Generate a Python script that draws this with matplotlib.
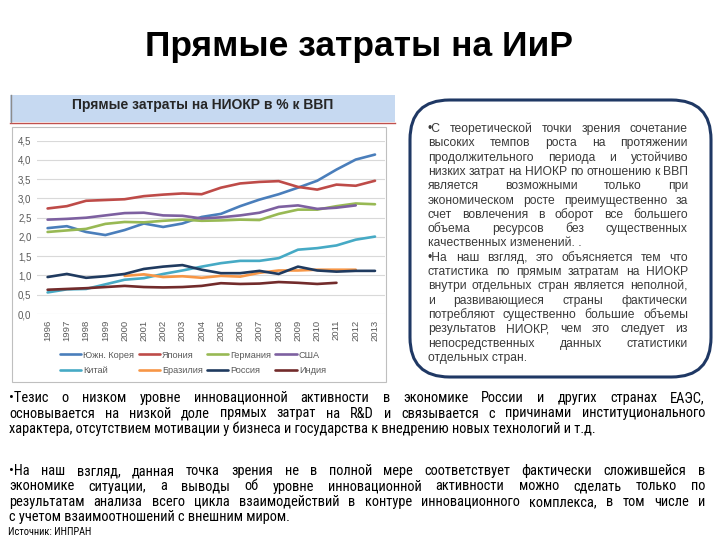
import matplotlib
matplotlib.use('Agg')
import matplotlib.pyplot as plt
from matplotlib.patches import Rectangle, FancyBboxPatch
from matplotlib.lines import Line2D
from matplotlib import font_manager

W, H = 720, 540

# ---------------- data ----------------
years = [str(y) for y in range(1996, 2014)]
korea   = [2.23, 2.28, 2.13, 2.05, 2.18, 2.35, 2.26, 2.35, 2.52, 2.60, 2.80, 2.97, 3.11, 3.28, 3.46, 3.75, 4.01, 4.14]
japan   = [2.74, 2.80, 2.94, 2.96, 2.98, 3.06, 3.10, 3.13, 3.11, 3.28, 3.39, 3.43, 3.45, 3.30, 3.23, 3.36, 3.33, 3.46]
germany = [2.13, 2.17, 2.21, 2.34, 2.39, 2.38, 2.42, 2.45, 2.42, 2.43, 2.45, 2.44, 2.60, 2.71, 2.71, 2.80, 2.87, 2.85]
usa     = [2.45, 2.47, 2.50, 2.56, 2.62, 2.63, 2.56, 2.55, 2.48, 2.51, 2.56, 2.63, 2.78, 2.82, 2.73, 2.76, 2.82, None]
china   = [0.56, 0.64, 0.65, 0.77, 0.89, 0.93, 1.04, 1.13, 1.23, 1.32, 1.38, 1.38, 1.45, 1.67, 1.71, 1.78, 1.93, 2.01]
brazil  = [None, None, None, None, 0.99, 1.03, 0.96, 0.98, 0.94, 0.99, 0.97, 1.07, 1.13, 1.13, 1.15, 1.15, 1.15, None]
russia  = [0.96, 1.04, 0.94, 0.98, 1.04, 1.17, 1.23, 1.27, 1.15, 1.06, 1.06, 1.12, 1.04, 1.23, 1.13, 1.10, 1.12, 1.12]
india   = [0.63, 0.65, 0.67, 0.70, 0.73, 0.70, 0.69, 0.70, 0.73, 0.80, 0.78, 0.79, 0.83, 0.81, 0.78, 0.81, None, None]

series_names = ['Южн. Корея', 'Япония', 'Германия', 'США', 'Китай', 'Бразилия', 'Россия', 'Индия']
series_vals = [korea, japan, germany, usa, china, brazil, russia, india]
series_colors = ['#4a7ebb', '#be4b48', '#98b954', '#7d60a0', '#46aac5', '#f79646', '#1f3a5f', '#722b2b']
y_ticks = [0.0, 0.5, 1.0, 1.5, 2.0, 2.5, 3.0, 3.5, 4.0, 4.5]

slide_title = 'Прямые затраты на ИиР'
chart_title = 'Прямые затраты на НИОКР в % к ВВП'

box_lines = [
    ('•С теоретической точки зрения сочетание', True),
    ('высоких темпов роста на протяжении', True),
    ('продолжительного периода и устойчиво', True),
    ('низких затрат на НИОКР по отношению к ВВП', True),
    ('является возможными только при', True),
    ('экономическом росте преимущественно за', True),
    ('счет вовлечения в оборот все большего', True),
    ('объема ресурсов без существенных', True),
    ('качественных изменений. .', False),
    ('•На наш взгляд, это объясняется тем что', True),
    ('статистика по прямым затратам на НИОКР', True),
    ('внутри отдельных стран является неполной,', True),
    ('и развивающиеся страны фактически', True),
    ('потребляют существенно большие объемы', True),
    ('результатов НИОКР, чем это следует из', True),
    ('непосредственных данных статистики', True),
    ('отдельных стран.', False),
]

bottom_p1 = [
    ('•Тезис о низком уровне инновационной активности в экономике России и других странах ЕАЭС,', True),
    ('основывается на низкой доле прямых затрат на R&D и связывается с причинами институционального', True),
    ('характера, отсутствием мотивации у бизнеса и государства к внедрению новых технологий и т.д.', False),
]
bottom_p2 = [
    ('•На наш взгляд, данная точка зрения не в полной мере соответствует фактически сложившейся в', True),
    ('экономике ситуации, а выводы об уровне инновационной активности можно сделать только по', True),
    ('результатам анализа всего цикла взаимодействий в контуре инновационного комплекса, в том числе и', True),
    ('с учетом взаимоотношений с внешним миром.', False),
]
source_text = 'Источник: ИНПРАН'

# ---------------- figure ----------------
plt.rcParams['font.family'] = ['Liberation Sans', 'DejaVu Sans']
fig = plt.figure(figsize=(7.2, 5.4), dpi=100)
fig.patch.set_facecolor('white')
renderer = fig.canvas.get_renderer()


def fx(x):
    return x / W


def fy(y):
    return 1 - y / H


def rect(x0, y0, x1, y1, **kw):
    r = Rectangle((fx(x0), fy(y1)), (x1 - x0) / W, (y1 - y0) / H,
                  transform=fig.transFigure, **kw)
    fig.add_artist(r)
    return r


def natural_width(s, size, **kw):
    t = fig.text(0, 0, s, fontsize=size, **kw)
    w = t.get_window_extent(renderer).width
    t.remove()
    return w


def fit_size(lines, width, base, **kw):
    mw = max(natural_width(s, base, **kw) for s, j in lines if j)
    return base * width / mw


def text_line(s, x0, x1, yb, justify, **kw):
    if not justify:
        fig.text(fx(x0), fy(yb), s, ha='left', va='baseline', **kw)
        return
    words = s.split()
    texts = [fig.text(0, 0, w, ha='left', va='baseline', **kw) for w in words]
    widths = [t.get_window_extent(renderer).width for t in texts]
    gap = (x1 - x0 - sum(widths)) / max(len(words) - 1, 1)
    x = x0
    for t, w in zip(texts, widths):
        t.set_position((fx(x), fy(yb)))
        x += w + gap


# slide title
fig.text(fx(359), fy(56), slide_title, ha='center', va='baseline',
         fontsize=25.5, fontweight='bold', color='black')

# chart header band
rect(10, 95, 395, 122, facecolor='#c6d9f1', edgecolor='none', zorder=-2)
fig.add_artist(Line2D([fx(10), fx(395)], [fy(122.5), fy(122.5)], transform=fig.transFigure,
                      color='#c0504d', lw=1.0, zorder=-1))
fig.add_artist(Line2D([fx(10.5), fx(10.5)], [fy(95), fy(122)], transform=fig.transFigure,
                      color='#8c8c8c', lw=1.0, zorder=-1))
fig.text(fx(203), fy(109), chart_title, ha='center', va='baseline',
         fontsize=10, fontweight='bold', color='#262626')

# chart frame
rect(12, 127, 386, 382, facecolor='white', edgecolor='#bfbfbf', lw=0.8, zorder=-2)

# axes
ax = fig.add_axes([fx(37), fy(314), (385 - 37) / W, (314 - 140.7) / H])
ax.set_zorder(3)
ax.set_facecolor('none')
x = list(range(len(years)))
handles = []
for name, vals, col in zip(series_names, series_vals, series_colors):
    yv = [float('nan') if v is None else v for v in vals]
    ln, = ax.plot(x, yv, color=col, lw=1.9, label=name, solid_capstyle='round')
    handles.append(ln)
ax.set_xlim(-0.55, len(years) - 1 + 0.52)
ax.set_ylim(0, 4.5)
ax.set_yticks(y_ticks)
ax.set_yticklabels([f'{v:.1f}'.replace('.', ',') for v in y_ticks], fontsize=7, color='#595959')
ax.set_xticks(x)
ax.set_xticklabels(years, rotation=90, fontsize=6.8, color='#595959')
ax.tick_params(length=0, pad=4)
ax.yaxis.grid(True, color='#d9d9d9', lw=0.8)
ax.set_axisbelow(True)
for sp in ax.spines.values():
    sp.set_visible(False)

order = [0, 4, 1, 5, 2, 6, 3, 7]
leg = fig.legend([handles[i] for i in order], [series_names[i] for i in order],
                 ncol=4, loc='center', bbox_to_anchor=(fx(193), fy(363)),
                 frameon=False, fontsize=6.6, handlelength=2.3, handletextpad=0.25,
                 columnspacing=0.45, labelspacing=0.75, labelcolor='#595959')
leg.set_zorder(4)

# right rounded box
bx0, by0, bx1, by1 = 410, 100, 711, 377
box = FancyBboxPatch((fx(bx0), fy(by1)), (bx1 - bx0) / W, (by1 - by0) / H,
                     boxstyle='round,pad=0,rounding_size=0.055', transform=fig.transFigure,
                     facecolor='white', edgecolor='#1f3864', lw=2.2,
                     mutation_aspect=W / H, zorder=-2)
fig.add_artist(box)

bs = fit_size(box_lines, 262, 9.5)
yb = 132
for s, j in box_lines:
    text_line(s, 428, 688, yb, j, fontsize=bs, color='#3a3a3a')
    yb += 14.3

# bottom text (condensed face)
names = {f.name for f in font_manager.fontManager.ttflist}
if 'Roboto Condensed' in names:
    bkw = dict(family=['Roboto Condensed', 'DejaVu Sans'])
else:
    bkw = dict(family=['DejaVu Sans'], fontstretch='condensed')
ts1 = 10 * 592 / natural_width(bottom_p1[-1][0], 10, **bkw)
ts2 = fit_size(bottom_p1 + bottom_p2, 690, 10, **bkw)
ts = min(ts1, ts2)
yb = 402
for s, j in bottom_p1:
    text_line(s, 9, 705, yb, j, fontsize=ts, color='black', **bkw)
    yb += 15.5
yb = 475
for s, j in bottom_p2:
    text_line(s, 9, 705, yb, j, fontsize=ts, color='black', **bkw)
    yb += 15.5
fig.text(fx(8), fy(535), source_text, ha='left', va='baseline', fontsize=7.5, color='black', **bkw)

fig.savefig('out.png', dpi=100)
